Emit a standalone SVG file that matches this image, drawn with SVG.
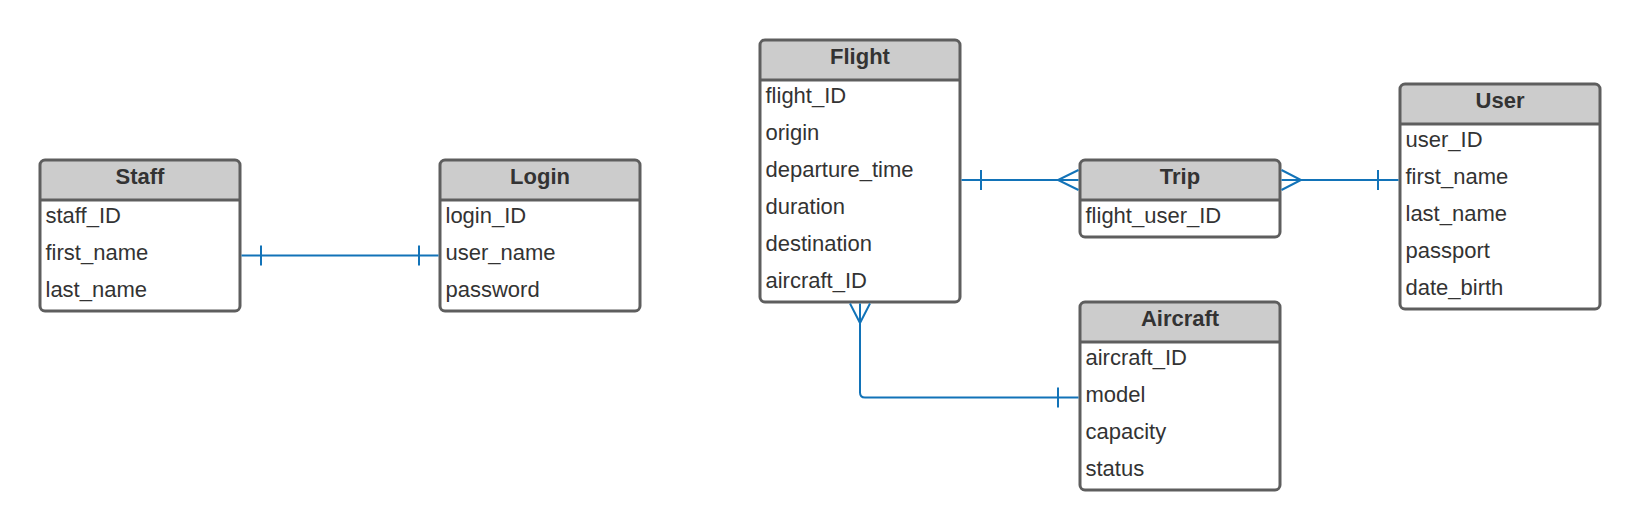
<svg xmlns="http://www.w3.org/2000/svg" width="1640" height="530" viewBox="0 0 1640 530">
<style>
.head{fill:#cccccc;stroke:none}
.frame{fill:none;stroke:#5e5e5e;stroke-width:3}
.body{fill:#ffffff;stroke:none}
.sep{stroke:#5e5e5e;stroke-width:3}
.title{font-family:"Liberation Sans",Arial,sans-serif;font-size:22px;font-weight:bold;fill:#333333;text-anchor:middle}
.attr{font-family:"Liberation Sans",Arial,sans-serif;font-size:22px;fill:#333333}
.conn{fill:none;stroke:#1273b8;stroke-width:2}
</style>
<rect width="1640" height="530" fill="#ffffff"/>

<g id="staff" transform="translate(40,160)">
<rect class="body" width="200" height="151" rx="5"/>
<path class="head" d="M0,40 V5 Q0,0 5,0 H195 Q200,0 200,5 V40 Z"/>
<line class="sep" x1="0" y1="40" x2="200" y2="40"/>
<rect class="frame" width="200" height="151" rx="5"/>
<text class="title" x="100" y="24">Staff</text>
<text class="attr" x="5.5" y="63">staff_ID</text>
<text class="attr" x="5.5" y="100">first_name</text>
<text class="attr" x="5.5" y="137">last_name</text>
</g>

<g id="login" transform="translate(440,160)">
<rect class="body" width="200" height="151" rx="5"/>
<path class="head" d="M0,40 V5 Q0,0 5,0 H195 Q200,0 200,5 V40 Z"/>
<line class="sep" x1="0" y1="40" x2="200" y2="40"/>
<rect class="frame" width="200" height="151" rx="5"/>
<text class="title" x="100" y="24">Login</text>
<text class="attr" x="5.5" y="63">login_ID</text>
<text class="attr" x="5.5" y="100">user_name</text>
<text class="attr" x="5.5" y="137">password</text>
</g>

<g id="flight" transform="translate(760,40)">
<rect class="body" width="200" height="262" rx="5"/>
<path class="head" d="M0,40 V5 Q0,0 5,0 H195 Q200,0 200,5 V40 Z"/>
<line class="sep" x1="0" y1="40" x2="200" y2="40"/>
<rect class="frame" width="200" height="262" rx="5"/>
<text class="title" x="100" y="24">Flight</text>
<text class="attr" x="5.5" y="63">flight_ID</text>
<text class="attr" x="5.5" y="100">origin</text>
<text class="attr" x="5.5" y="137">departure_time</text>
<text class="attr" x="5.5" y="174">duration</text>
<text class="attr" x="5.5" y="211">destination</text>
<text class="attr" x="5.5" y="248">aircraft_ID</text>
</g>

<g id="trip" transform="translate(1080,160)">
<rect class="body" width="200" height="77" rx="5"/>
<path class="head" d="M0,40 V5 Q0,0 5,0 H195 Q200,0 200,5 V40 Z"/>
<line class="sep" x1="0" y1="40" x2="200" y2="40"/>
<rect class="frame" width="200" height="77" rx="5"/>
<text class="title" x="100" y="24">Trip</text>
<text class="attr" x="5.5" y="63">flight_user_ID</text>
</g>

<g id="user" transform="translate(1400,84)">
<rect class="body" width="200" height="225" rx="5"/>
<path class="head" d="M0,40 V5 Q0,0 5,0 H195 Q200,0 200,5 V40 Z"/>
<line class="sep" x1="0" y1="40" x2="200" y2="40"/>
<rect class="frame" width="200" height="225" rx="5"/>
<text class="title" x="100" y="24">User</text>
<text class="attr" x="5.5" y="63">user_ID</text>
<text class="attr" x="5.5" y="100">first_name</text>
<text class="attr" x="5.5" y="137">last_name</text>
<text class="attr" x="5.5" y="174">passport</text>
<text class="attr" x="5.5" y="211">date_birth</text>
</g>

<g id="aircraft" transform="translate(1080,302)">
<rect class="body" width="200" height="188" rx="5"/>
<path class="head" d="M0,40 V5 Q0,0 5,0 H195 Q200,0 200,5 V40 Z"/>
<line class="sep" x1="0" y1="40" x2="200" y2="40"/>
<rect class="frame" width="200" height="188" rx="5"/>
<text class="title" x="100" y="24">Aircraft</text>
<text class="attr" x="5.5" y="63">aircraft_ID</text>
<text class="attr" x="5.5" y="100">model</text>
<text class="attr" x="5.5" y="137">capacity</text>
<text class="attr" x="5.5" y="174">status</text>
</g>

<g id="connectors">
<path class="conn" d="M241.5,255.5 H438.5 M261,245.5 V265.5 M419,245.5 V265.5"/>
<path class="conn" d="M961.5,180 H1078.5 M981,170 V190 M1078.5,170 L1058,180 L1078.5,190"/>
<path class="conn" d="M1281.5,180 H1398.5 M1281.5,170 L1301,180 L1281.5,190 M1378,170 V190"/>
<path class="conn" d="M860,303.5 V392.5 Q860,397.5 865,397.5 H1078.5 M850,303.5 L860,323 L870,303.5 M1058,387.5 V407.5"/>
</g>
</svg>
